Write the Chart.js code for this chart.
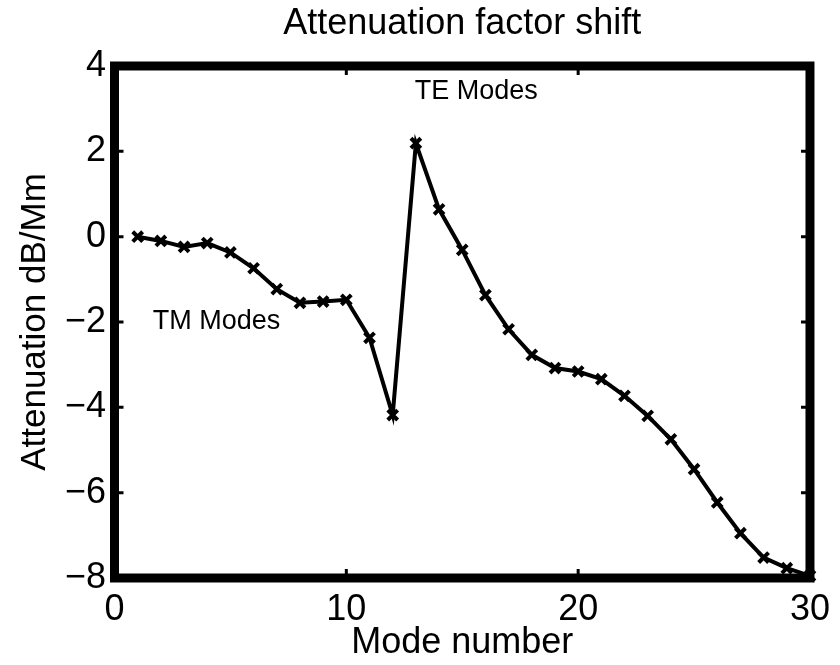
<!DOCTYPE html>
<html>
<head>
<meta charset="utf-8">
<script src="https://cdn.jsdelivr.net/npm/chart.js@4.4.1/dist/chart.umd.min.js"></script>
<style>
  html, body { margin: 0; padding: 0; background: #fff; }
  #wrap { width: 840px; height: 665px; }
</style>
</head>
<body>
<div id="wrap"><canvas id="attChart"></canvas></div>
<script>
// mode numbers and attenuation shift (dB/Mm)
const modes = [1, 2, 3, 4, 5, 6, 7, 8, 9, 10, 11, 12, 13, 14, 15,
               16, 17, 18, 19, 20, 21, 22, 23, 24, 25, 26, 27, 28, 29, 30];
const attenuation = [0.0, -0.1, -0.24, -0.15, -0.37, -0.74, -1.23, -1.55, -1.52, -1.48,
                     -2.37, -4.18, 2.19, 0.64, -0.31, -1.37, -2.17, -2.77, -3.08, -3.16,
                     -3.34, -3.73, -4.2, -4.75, -5.45, -6.23, -6.95, -7.52, -7.77, -7.95];

const xTickValues = [0, 10, 20, 30];
const yTickValues = [-8, -6, -4, -2, 0, 2, 4];

// text notes placed in data coordinates
const noteText = ['TE Modes', 'TM Modes'];
const noteX = [12.95, 1.65];
const noteY = [3.4, -2.0];

const FONT = "'Liberation Sans', Arial, Helvetica, sans-serif";

const points = modes.map((m, i) => ({ x: m, y: attenuation[i] }));

// thick box round the axes with small inward ticks, matlab style
const framePlugin = {
  id: 'frame',
  beforeDatasetsDraw(chart) {
    const { ctx, chartArea: a, scales: { x, y } } = chart;
    ctx.save();
    ctx.strokeStyle = '#000';
    ctx.lineWidth = 3;
    ctx.beginPath();
    xTickValues.forEach(v => {
      const px = x.getPixelForValue(v);
      ctx.moveTo(px, a.bottom); ctx.lineTo(px, a.bottom - 9);
      ctx.moveTo(px, a.top); ctx.lineTo(px, a.top + 9);
    });
    yTickValues.forEach(v => {
      const py = y.getPixelForValue(v);
      ctx.moveTo(a.left, py); ctx.lineTo(a.left + 9, py);
      ctx.moveTo(a.right, py); ctx.lineTo(a.right - 9, py);
    });
    ctx.stroke();
    ctx.lineWidth = 9;
    ctx.strokeRect(a.left, a.top, a.right - a.left, a.bottom - a.top);
    ctx.restore();
  },
  afterDatasetsDraw(chart) {
    const { ctx, scales: { x, y } } = chart;
    ctx.save();
    ctx.fillStyle = '#000';
    ctx.font = '27px ' + FONT;
    ctx.textAlign = 'left';
    ctx.textBaseline = 'middle';
    noteText.forEach((t, i) => {
      ctx.fillText(t, x.getPixelForValue(noteX[i]), y.getPixelForValue(noteY[i]));
    });
    ctx.restore();
  }
};

const minusFmt = v => (v < 0 ? '\u2212' + Math.abs(v) : String(v));

const config = {
  type: 'line',
  data: {
    datasets: [{
      label: 'Attenuation',
      data: points,
      borderColor: '#000',
      backgroundColor: '#000',
      borderWidth: 4,
      pointStyle: 'crossRot',
      pointRadius: 7,
      pointBorderWidth: 4,
      pointBorderColor: '#000',
      tension: 0,
      clip: false
    }]
  },
  options: {
    responsive: true,
    maintainAspectRatio: false,
    animation: false,
    layout: { padding: { left: 0, right: 23, top: 0, bottom: 0 } },
    plugins: {
      legend: { display: false },
      tooltip: { enabled: false },
      title: {
        display: true,
        fullSize: false,
        text: 'Attenuation factor shift',
        color: '#000',
        font: { family: FONT, size: 36, weight: 'normal', lineHeight: 1.2 },
        padding: { top: 2.4, bottom: 20.4 }
      }
    },
    scales: {
      x: {
        type: 'linear',
        min: 0,
        max: 30,
        afterBuildTicks: s => { s.ticks = xTickValues.map(v => ({ value: v })); },
        afterFit: s => { s.height = 87; },
        grid: { display: false, drawTicks: false },
        border: { display: false },
        ticks: {
          color: '#000',
          padding: 10,
          maxRotation: 0,
          font: { family: FONT, size: 36, lineHeight: 1.2 },
          callback: minusFmt
        },
        title: {
          display: true,
          text: 'Mode number',
          color: '#000',
          font: { family: FONT, size: 36, lineHeight: 1.2 },
          padding: { top: 0, bottom: 0 }
        }
      },
      y: {
        min: -8,
        max: 4,
        afterBuildTicks: s => { s.ticks = yTickValues.map(v => ({ value: v })); },
        afterFit: s => { s.width = 114.5; },
        grid: { display: false, drawTicks: false },
        border: { display: false },
        ticks: {
          color: '#000',
          padding: 8.5,
          font: { family: FONT, size: 36, lineHeight: 1.2 },
          callback: minusFmt
        },
        title: {
          display: true,
          text: 'Attenuation dB/Mm',
          color: '#000',
          font: { family: FONT, size: 35, lineHeight: 1.2 },
          padding: { top: 14, bottom: 0 }
        }
      }
    }
  },
  plugins: [framePlugin]
};

document.addEventListener('DOMContentLoaded', function () {
  const ctx = document.getElementById('attChart').getContext('2d');
  new Chart(ctx, config);
});
</script>
</body>
</html>
